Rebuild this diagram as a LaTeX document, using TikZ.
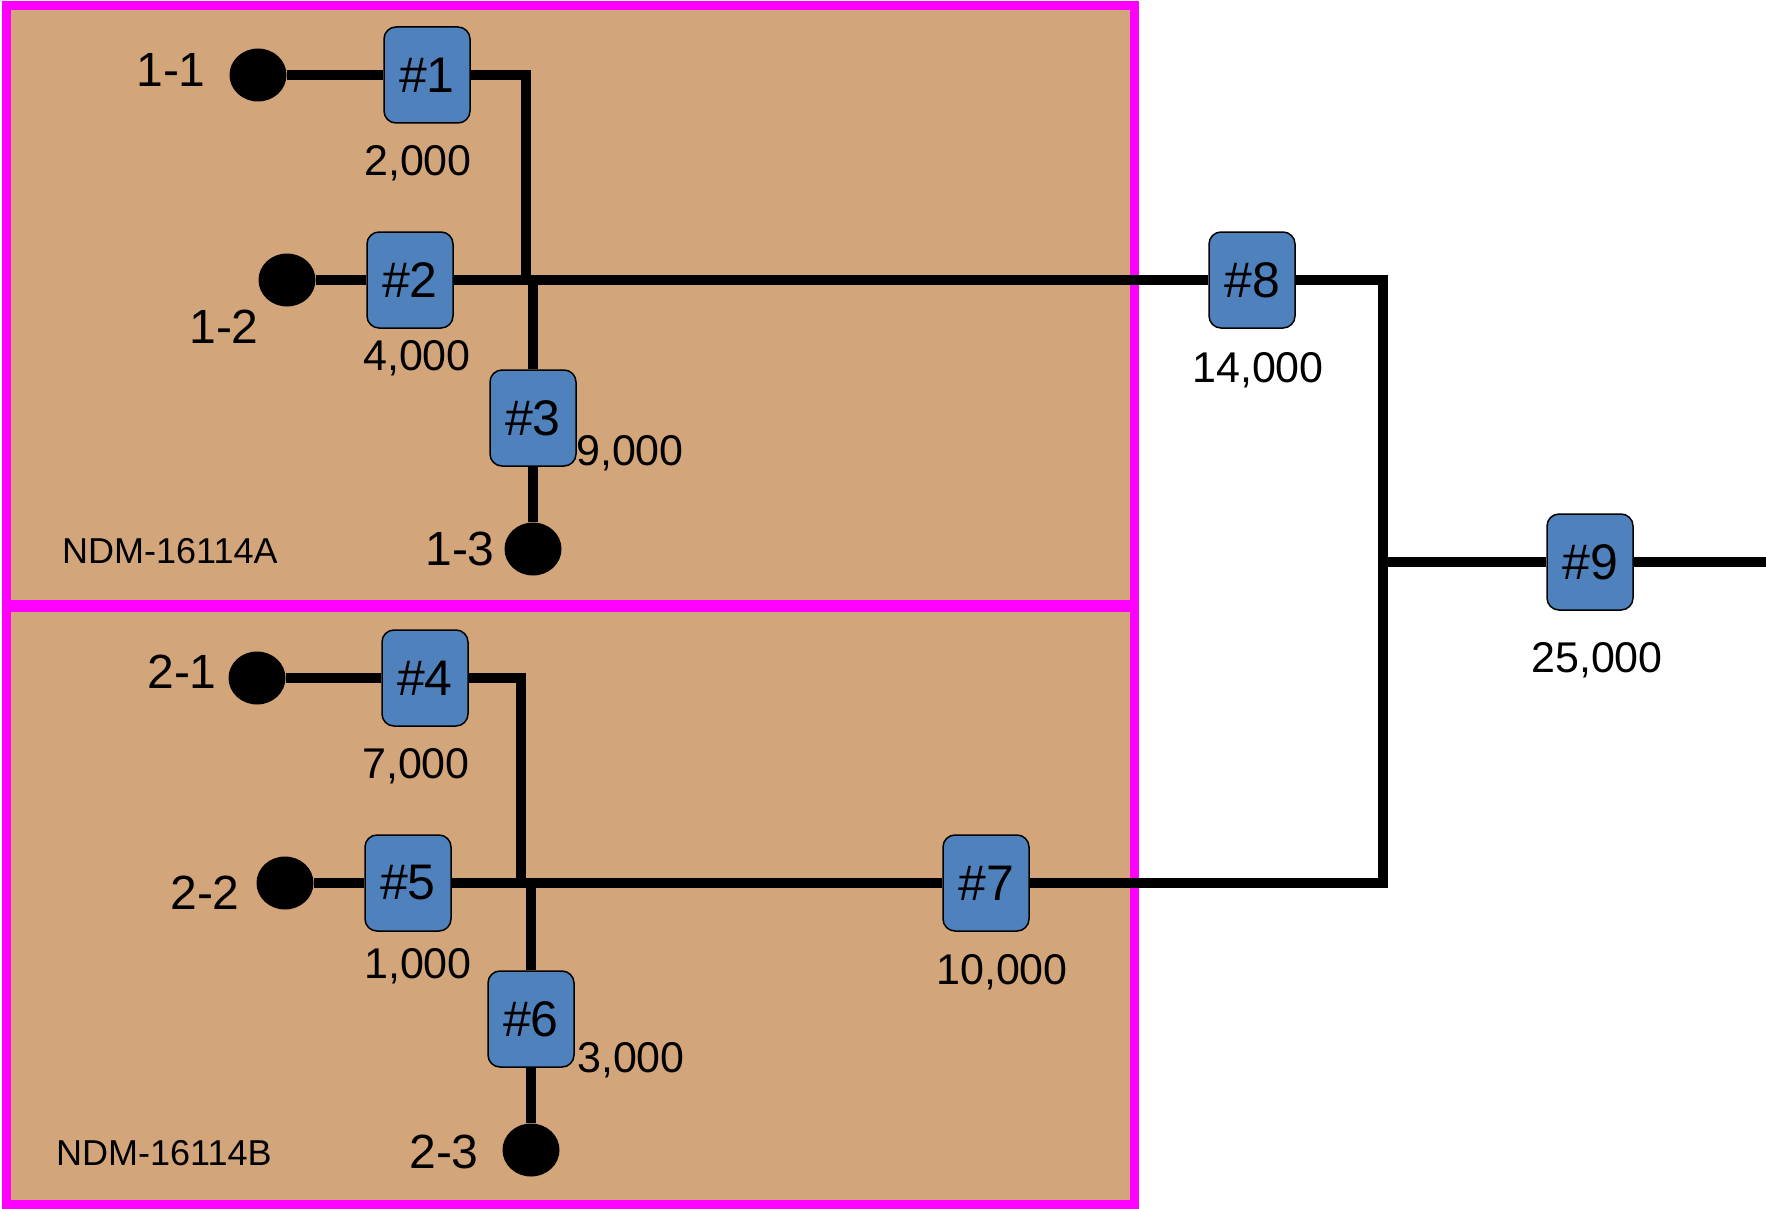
\documentclass[tikz,border=0pt]{standalone}
\usepackage{fontspec}
\setmainfont{Liberation Sans}
\usetikzlibrary{shapes.geometric}

\definecolor{ndmfill}{RGB}{211,165,122}
\definecolor{ndmedge}{RGB}{255,0,255}
\definecolor{valveblue}{RGB}{79,129,189}

\tikzset{
  valve/.style={draw=black, line width=1.5pt, fill=valveblue, rounded corners=12pt,
    minimum width=86pt, minimum height=96pt, inner sep=0pt, font=\fontsize{50}{54}\selectfont},
  port/.style={ellipse, fill=black, minimum width=57pt, minimum height=53pt, inner sep=0pt},
  portlbl/.style={inner sep=0pt, font=\fontsize{48}{52}\selectfont},
  flowlbl/.style={inner sep=0pt, font=\fontsize{43}{47}\selectfont},
  ndmlbl/.style={inner sep=0pt, anchor=west, font=\fontsize{36}{40}\selectfont},
  wire/.style={line width=10pt},
  ndmbox/.style={draw=ndmedge, fill=ndmfill, line width=9pt},
}

\begin{document}
\begin{tikzpicture}[x=1pt,y=1pt,yscale=-1,xscale=1]
  \useasboundingbox (0,0) rectangle (1766,1209);

  %Shape: Rectangle NDM-16114A
  \draw [ndmbox] (6,6) rectangle (1134,604);
  %Shape: Rectangle NDM-16114B
  \draw [ndmbox] (6,607) rectangle (1134,1204);

  % Ports and valves, unit A
  \node [port] (p11) at (258,75) {};
  \node [valve] (v1) at (427,75) {\#1};
  \node [port] (p12) at (287,280) {};
  \node [valve] (v2) at (410,280) {\#2};
  \node [valve] (v3) at (533,418) {\#3};
  \node [port] (p13) at (533,549) {};
  % Ports and valves, unit B
  \node [port] (p21) at (257,678) {};
  \node [valve] (v4) at (425,678) {\#4};
  \node [port] (p22) at (285,883) {};
  \node [valve] (v5) at (408,883) {\#5};
  \node [valve] (v6) at (531,1019) {\#6};
  \node [port] (p23) at (531,1150) {};
  \node [valve] (v7) at (986,883) {\#7};
  % Valves outside
  \node [valve] (v8) at (1252,280) {\#8};
  \node [valve] (v9) at (1590,562) {\#9};

  % Junctions and corners
  \coordinate (ja) at (526,280);
  \coordinate (jaa) at (533,280);
  \coordinate (jb) at (521,883);
  \coordinate (jbb) at (531,883);
  \coordinate (ctop) at (1383,280);
  \coordinate (cmid) at (1383,562);
  \coordinate (cbot) at (1383,883);
  \coordinate (outlet) at (1766,562);

  %Straight Lines unit A
  \draw [wire] (p11) -- (v1);
  \draw [wire] (v1) -| (ja);
  \draw [wire] (p12) -- (v2);
  \draw [wire] (v2) -- (v8);
  \draw [wire] (jaa) -- (v3);
  \draw [wire] (v3) -- (p13);
  %Straight Lines unit B
  \draw [wire] (p21) -- (v4);
  \draw [wire] (v4) -| (jb);
  \draw [wire] (p22) -- (v5);
  \draw [wire] (v5) -- (v7);
  \draw [wire] (jbb) -- (v6);
  \draw [wire] (v6) -- (p23);
  %Straight Lines header
  \draw [wire] (v8) -- (ctop) -- (cbot) -- (v7);
  \draw [wire] (cmid) -- (v9);
  \draw [wire] (v9) -- (outlet);

  % Text Node
  \node [portlbl] (l11) at (171,70) {1-1};
  \node [portlbl] (l12) at (224,327) {1-2};
  \node [portlbl] (l13) at (460,549) {1-3};
  \node [portlbl] (l21) at (182,672) {2-1};
  \node [portlbl] (l22) at (205,893) {2-2};
  \node [portlbl] (l23) at (444,1152) {2-3};
  % Text Node
  \node [flowlbl] (f1) at (418,163) {2,000};
  \node [flowlbl] (f2) at (417,358) {4,000};
  \node [flowlbl, anchor=west] (f3) at (576,453) {9,000};
  \node [flowlbl] (f4) at (416,766) {7,000};
  \node [flowlbl] (f5) at (418,966) {1,000};
  \node [flowlbl, anchor=west] (f6) at (577,1060) {3,000};
  \node [flowlbl] (f7) at (1002,972) {10,000};
  \node [flowlbl] (f8) at (1258,370) {14,000};
  \node [flowlbl] (f9) at (1597,660) {25,000};
  % Text Node
  \node [ndmlbl] (ndma) at (62,551) {NDM-16114A};
  \node [ndmlbl] (ndmb) at (56,1153) {NDM-16114B};
\end{tikzpicture}
\end{document}
